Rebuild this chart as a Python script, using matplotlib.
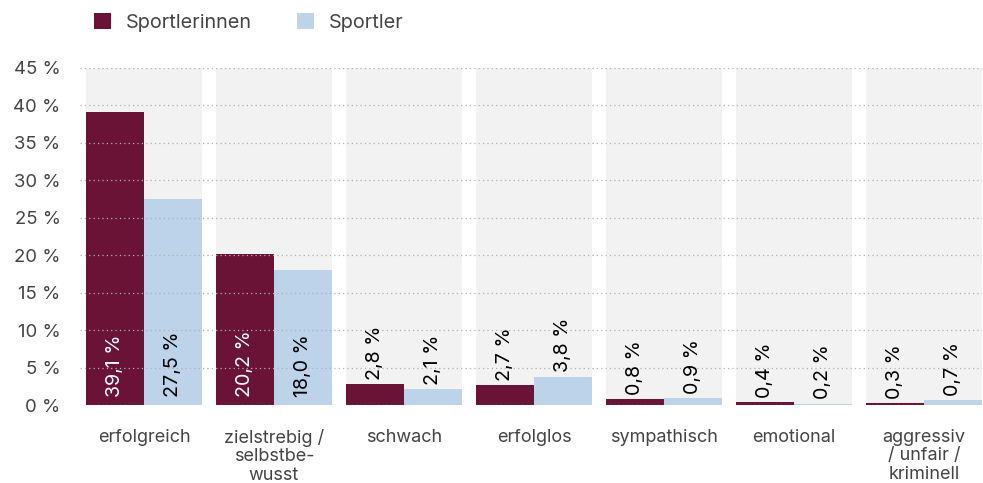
import matplotlib
matplotlib.use("Agg")
import matplotlib.pyplot as plt
import numpy as np

plt.rcParams['font.family'] = ['Inter', 'DejaVu Sans']

categories = ['erfolgreich', 'zielstrebig /\nselbstbe-\nwusst', 'schwach', 'erfolglos',
              'sympathisch', 'emotional', 'aggressiv\n/ unfair /\nkriminell']
sportlerinnen = [39.1, 20.2, 2.8, 2.7, 0.8, 0.4, 0.3]
sportler = [27.5, 18.0, 2.1, 3.8, 0.9, 0.2, 0.7]
series_names = ['Sportlerinnen', 'Sportler']
yticks = [0, 5, 10, 15, 20, 25, 30, 35, 40, 45]

c_women = '#6a1337'
c_men = '#bcd3ea'
c_bg = '#f2f2f2'
c_text = '#444444'

fig = plt.figure(figsize=(9.83, 4.83), dpi=100)
ax = fig.add_axes([80 / 983, 1 - 405 / 483, 902 / 983, 337 / 483])

x = np.arange(len(categories))
half = 0.446
w = half

# grey panel behind each group
for xi in x:
    ax.axvspan(xi - half, xi + half, ymin=0, ymax=1, color=c_bg, zorder=0, lw=0)

ax.set_ylim(0, 45)
ax.set_xlim(-half - 6 / 130, len(categories) - 1 + half)
ax.set_yticks(yticks)
ax.set_yticklabels([f'{v} %' for v in yticks])
ax.yaxis.grid(True, linestyle=(0, (1, 2.5)), color='#b0b0b0', linewidth=0.9, zorder=1)
ax.set_axisbelow(False)

b1 = ax.bar(x - w / 2, sportlerinnen, width=w, color=c_women, zorder=2, label=series_names[0])
b2 = ax.bar(x + w / 2, sportler, width=w, color=c_men, zorder=2, label=series_names[1])

def fmt(v):
    return f'{v:.1f}'.replace('.', ',') + ' %'

for bars, vals, inside_col in [(b1, sportlerinnen, 'white'), (b2, sportler, 'black')]:
    for bar, v in zip(bars, vals):
        cx = bar.get_x() + bar.get_width() / 2
        if v > 10:
            ax.annotate(fmt(v), (cx, 0), xytext=(0, 6), textcoords='offset points',
                        rotation=90, ha='center', va='bottom', fontsize=14.2,
                        color=inside_col, zorder=3)
        else:
            ax.annotate(fmt(v), (cx, v), xytext=(0, 3), textcoords='offset points',
                        rotation=90, ha='center', va='bottom', fontsize=14.2,
                        color='black', zorder=3)

ax.set_xticks(x)
ax.set_xticklabels(categories, fontsize=13, color=c_text, linespacing=1.12, va='top')
ax.tick_params(axis='x', length=0, pad=17)
ax.tick_params(axis='y', length=0, pad=14, labelsize=13.3, labelcolor=c_text)
for s in ax.spines.values():
    s.set_visible(False)

# legend
fig.legend(handles=[b1, b2], labels=series_names, loc='upper left',
           bbox_to_anchor=(94 / 983, 1 - 13 / 483), ncol=2, frameon=False, borderpad=0,
           borderaxespad=0, fontsize=14.3, handlelength=0.85, handleheight=0.85,
           handletextpad=0.75, columnspacing=2.3, labelcolor=c_text)

fig.savefig('out.png', dpi=100)
